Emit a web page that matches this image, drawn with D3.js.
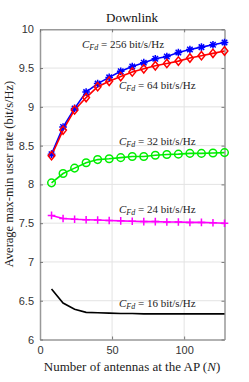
<!DOCTYPE html>
<html><head><meta charset="utf-8">
<script src="https://cdn.jsdelivr.net/npm/d3@7"></script>
<style>body{margin:0;background:#fff}</style>
</head><body>
<svg id="c" width="249" height="382"></svg>
<script>
const antennas = [8,16,24,32,40,48,56,64,72,80,88,96,104,112,120,128];
const rate256 = [8.39,8.74,8.98,9.19,9.30,9.38,9.46,9.52,9.57,9.62,9.65,9.70,9.74,9.77,9.80,9.83];
const rate64  = [8.37,8.70,8.96,9.12,9.26,9.33,9.39,9.45,9.49,9.53,9.56,9.59,9.63,9.66,9.69,9.72];
const rate32  = [8.02,8.14,8.21,8.28,8.32,8.33,8.345,8.36,8.36,8.375,8.385,8.39,8.40,8.40,8.405,8.41];
const rate24  = [7.60,7.56,7.55,7.545,7.54,7.535,7.53,7.525,7.52,7.52,7.515,7.515,7.51,7.51,7.505,7.50];
const rate16  = [6.65,6.47,6.39,6.35,6.345,6.34,6.335,6.335,6.33,6.33,6.33,6.33,6.33,6.33,6.33,6.33];
const xTicks = [0,50,100];
const yTicks = [6,6.5,7,7.5,8,8.5,9,9.5,10];
const labels = [
  {cap:"256", x:82, y:48},
  {cap:"64", x:119, y:89},
  {cap:"32", x:119, y:145},
  {cap:"24", x:119, y:213},
  {cap:"16", x:119, y:307}
];

const svg = d3.select("#c");
const L=40, R=224.5, T=29.3, B=339.5;
const x = d3.scaleLinear().domain([0,128]).range([L,R]);
const y = d3.scaleLinear().domain([6,10]).range([B,T]);
const serif = "'Liberation Serif','DejaVu Serif',serif";
const sans = "'Liberation Sans',Arial,sans-serif";

// grid
svg.append("g").selectAll("line").data(xTicks.slice(1)).join("line")
  .attr("x1",d=>x(d)).attr("x2",d=>x(d)).attr("y1",T).attr("y2",B)
  .attr("stroke","#e3e3e3").attr("stroke-width",1);
svg.append("g").selectAll("line").data(yTicks.slice(1,-1)).join("line")
  .attr("y1",d=>y(d)).attr("y2",d=>y(d)).attr("x1",L).attr("x2",R)
  .attr("stroke","#e3e3e3").attr("stroke-width",1);

// axes
const xa = svg.append("g").attr("transform",`translate(0,${B})`)
  .call(d3.axisBottom(x).tickValues(xTicks).tickSizeInner(-3).tickSizeOuter(0).tickPadding(7));
const ya = svg.append("g").attr("transform",`translate(${L},0)`)
  .call(d3.axisLeft(y).tickValues(yTicks).tickFormat(d3.format("~g")).tickSizeInner(-3).tickSizeOuter(0).tickPadding(6));
const xr = svg.append("g").attr("transform",`translate(0,${T})`)
  .call(d3.axisTop(x).tickValues(xTicks).tickSizeInner(-3).tickSizeOuter(0).tickFormat(""));
const yr = svg.append("g").attr("transform",`translate(${R},0)`)
  .call(d3.axisRight(y).tickValues(yTicks).tickSizeInner(-3).tickSizeOuter(0).tickFormat(""));
[xa,ya,xr,yr].forEach(g=>{
  g.selectAll("path").attr("stroke","#999").attr("stroke-width",1.5);
  g.selectAll("line").attr("stroke","#777").attr("stroke-width",1);
  g.selectAll("text").attr("font-family",sans).attr("font-size",11).attr("fill","#333");
});

// series
const line = d3.line().x((d,i)=>x(antennas[i])).y(d=>y(d));
function series(vals,color){
  svg.append("path").datum(vals).attr("d",line).attr("fill","none")
    .attr("stroke",color).attr("stroke-width",1.6);
}
series(rate16,"#000");
series(rate24,"#ff00ff");
series(rate32,"#00ee00");
series(rate256,"#0000ff");
series(rate64,"#ff0000");

// markers
const gm = svg.append("g");
rate24.forEach((v,i)=>{
  const cx=x(antennas[i]), cy=y(v), s=3.8;
  gm.append("path").attr("d",`M${cx-s},${cy}H${cx+s}M${cx},${cy-s}V${cy+s}`)
    .attr("stroke","#ff00ff").attr("stroke-width",1.5);
});
rate32.forEach((v,i)=>{
  gm.append("circle").attr("cx",x(antennas[i])).attr("cy",y(v)).attr("r",3.8)
    .attr("fill","none").attr("stroke","#00ee00").attr("stroke-width",1.5);
});
rate256.forEach((v,i)=>{
  const cx=x(antennas[i]), cy=y(v), s=3.8, d=s*0.72;
  gm.append("path").attr("d",`M${cx-s},${cy}H${cx+s}M${cx},${cy-s}V${cy+s}M${cx-d},${cy-d}L${cx+d},${cy+d}M${cx-d},${cy+d}L${cx+d},${cy-d}`)
    .attr("stroke","#0000ff").attr("stroke-width",1.5);
});
rate64.forEach((v,i)=>{
  const cx=x(antennas[i]), cy=y(v), s=4.2;
  gm.append("path").attr("d",`M${cx},${cy-s}L${cx+s*0.8},${cy}L${cx},${cy+s}L${cx-s*0.8},${cy}Z`)
    .attr("fill","none").attr("stroke","#ff0000").attr("stroke-width",1.5);
});

// annotations
labels.forEach(l=>{
  const t = svg.append("text").attr("x",l.x).attr("y",l.y)
    .attr("font-family",serif).attr("font-size",11).attr("fill","#222");
  t.append("tspan").attr("font-style","italic").text("C");
  t.append("tspan").attr("font-style","italic").attr("font-size",8).attr("dy",2).text("Fd");
  t.append("tspan").attr("dy",-2).text(" = " + l.cap + " bit/s/Hz");
});

// title and axis labels
svg.append("text").attr("x",132).attr("y",22).attr("text-anchor","middle")
  .attr("font-family",serif).attr("font-size",13).attr("fill","#111").text("Downlink");
const xl = svg.append("text").attr("x",132).attr("y",371).attr("text-anchor","middle")
  .attr("font-family",serif).attr("font-size",13).attr("fill","#222");
xl.append("tspan").text("Number of antennas at the AP (");
xl.append("tspan").attr("font-style","italic").text("N");
xl.append("tspan").text(")");
svg.append("text").attr("transform",`translate(13,174) rotate(-90)`).attr("text-anchor","middle")
  .attr("font-family",serif).attr("font-size",12.5).attr("fill","#222")
  .text("Average max-min user rate (bit/s/Hz)");
</script>
</body></html>
